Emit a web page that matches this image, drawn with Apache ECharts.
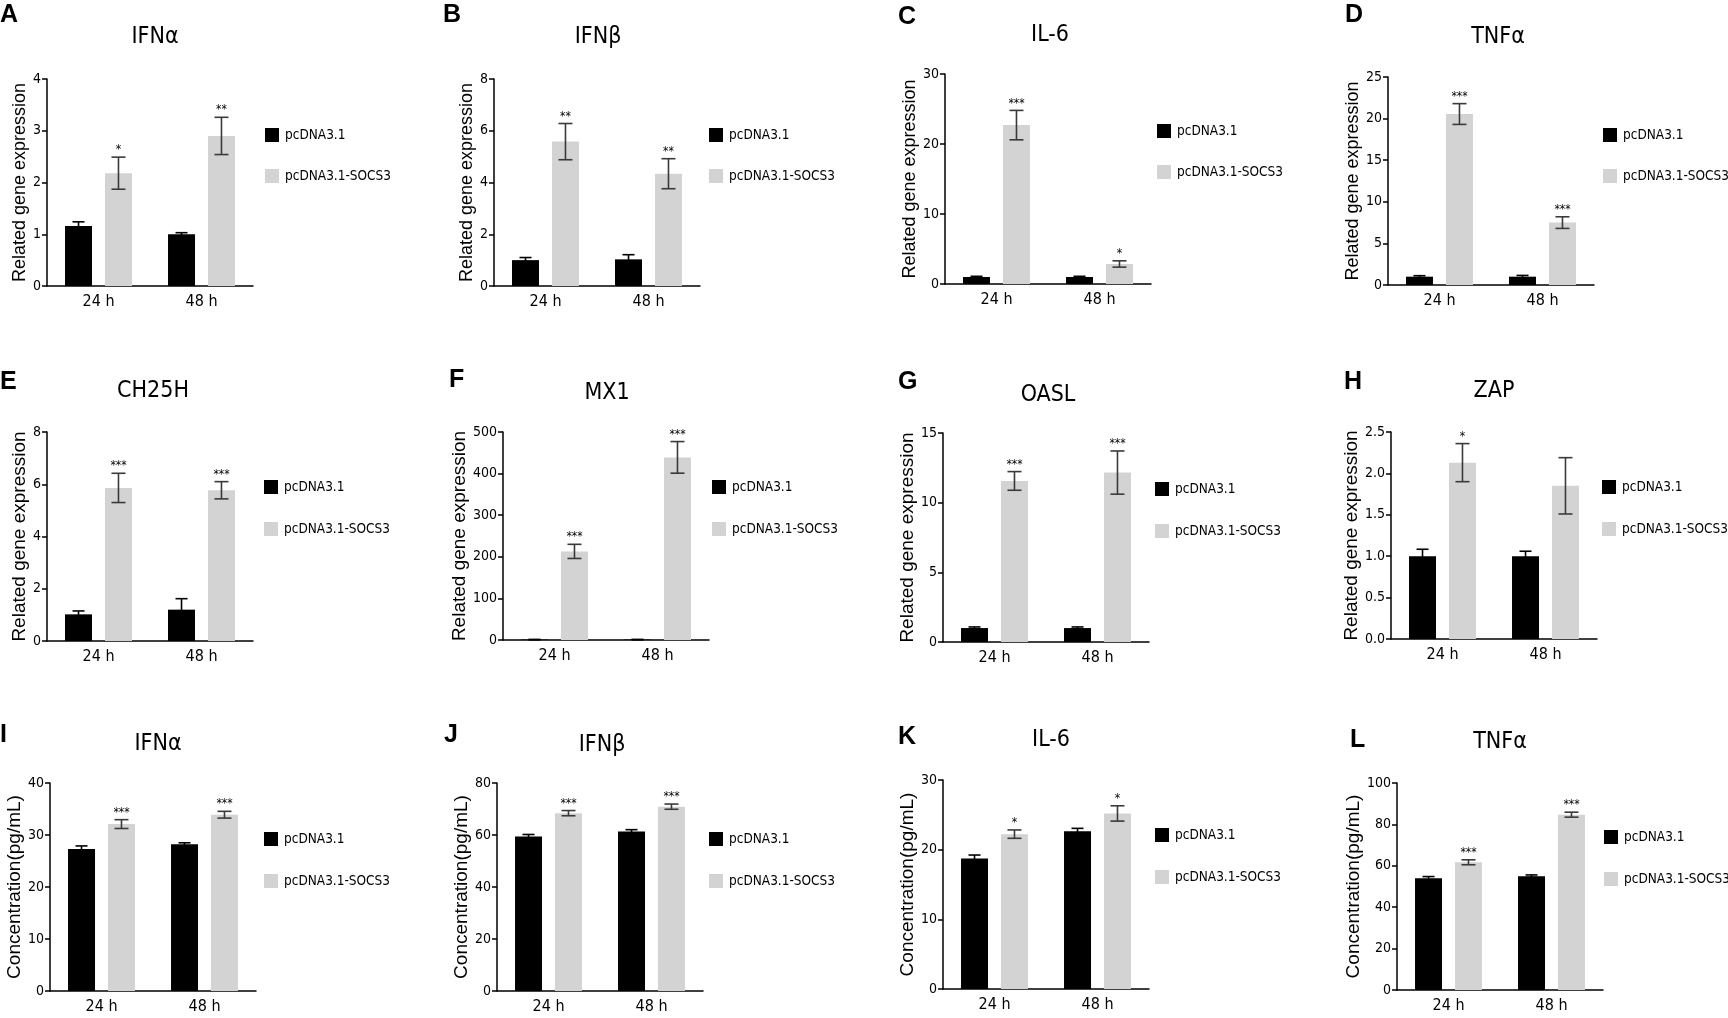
<!DOCTYPE html>
<html>
<head>
<meta charset="utf-8">
<script src="https://cdn.jsdelivr.net/npm/echarts@6/dist/echarts.min.js"></script>
<style>
html,body{margin:0;padding:0;background:#fff;}
#chart{width:1728px;height:1018px;}
</style>
</head>
<body>
<div id="chart"></div>
<script>
// ---------- data ----------
const categories = ['24 h', '48 h'];
const seriesNames = ['pcDNA3.1', 'pcDNA3.1-SOCS3'];
const panelLetters = ['A','B','C','D','E','F','G','H','I','J','K','L'];
const panelTitles = ['IFNα','IFNβ','IL-6','TNFα','CH25H','MX1','OASL','ZAP','IFNα','IFNβ','IL-6','TNFα'];
const yAxisNames = [
  'Related gene expression','Related gene expression','Related gene expression','Related gene expression',
  'Related gene expression','Related gene expression','Related gene expression','Related gene expression',
  'Concentration(pg/mL)','Concentration(pg/mL)','Concentration(pg/mL)','Concentration(pg/mL)'
];
const yMax = [4, 8, 30, 25, 8, 500, 15, 2.5, 40, 80, 30, 100];
const yInterval = [1, 2, 10, 5, 2, 100, 5, 0.5, 10, 20, 10, 20];
const yDecimals = [0, 0, 0, 0, 0, 0, 0, 1, 0, 0, 0, 0];

const controlMeans = [
  [1.16, 1.0], [1.0, 1.03], [1.0, 1.0], [1.0, 1.0],
  [1.02, 1.2], [1, 1], [1.0, 1.0], [1.0, 1.0],
  [27.3, 28.2], [59.4, 61.35], [18.73, 22.66], [54.0, 55.0]
];
const controlErrors = [
  [0.08, 0.03], [0.1, 0.18], [0.1, 0.1], [0.12, 0.15],
  [0.13, 0.42], [0.3, 0.3], [0.08, 0.08], [0.084, 0.06],
  [0.6, 0.3], [0.8, 0.7], [0.5, 0.4], [0.8, 0.6]
];
const socsMeans = [
  [2.18, 2.9], [5.58, 4.34], [22.7, 2.86], [20.55, 7.5],
  [5.86, 5.77], [213, 439], [11.56, 12.16], [2.13, 1.85],
  [32.1, 33.9], [68.4, 70.9], [22.23, 25.2], [61.7, 84.7]
];
const socsErrors = [
  [0.31, 0.36], [0.7, 0.58], [2.1, 0.45], [1.25, 0.7],
  [0.56, 0.33], [17, 38], [0.67, 1.55], [0.23, 0.34],
  [0.85, 0.65], [1.0, 1.0], [0.6, 1.1], [1.2, 1.2]
];
const socsStars = [
  ['*','**'], ['**','**'], ['***','*'], ['***','***'],
  ['***','***'], ['***','***'], ['***','***'], ['*',''],
  ['***','***'], ['***','***'], ['*','*'], ['***','***']
];

// ---------- layout & style ----------
const layout = [
  {ax:49,  top:79,  zero:286, tx:150,  ty:32,  lx:0,    ly:15,  gx:265,  gy:128},
  {ax:496, top:79,  zero:286, tx:593,  ty:32,  lx:443,  ly:15,  gx:709,  gy:128},
  {ax:947, top:74,  zero:284, tx:1045, ty:30,  lx:898,  ly:17,  gx:1157, gy:124},
  {ax:1390,top:77,  zero:285, tx:1493, ty:32,  lx:1345, ly:15,  gx:1603, gy:128},
  {ax:49,  top:432, zero:641, tx:148,  ty:386, lx:0,    ly:382, gx:264,  gy:480},
  {ax:505, top:432, zero:640, tx:602,  ty:388, lx:449,  ly:380, gx:712,  gy:480},
  {ax:945, top:433, zero:642, tx:1043, ty:390, lx:898,  ly:382, gx:1155, gy:482},
  {ax:1393,top:432, zero:639, tx:1489, ty:386, lx:1344, ly:382, gx:1602, gy:480},
  {ax:52,  top:783, zero:991, tx:153,  ty:739, lx:0,    ly:735, gx:264,  gy:832},
  {ax:499, top:783, zero:991, tx:597,  ty:740, lx:444,  ly:735, gx:709,  gy:832},
  {ax:945, top:780, zero:989, tx:1046, ty:735, lx:898,  ly:737, gx:1155, gy:828},
  {ax:1399,top:783, zero:990, tx:1495, ty:737, lx:1350, ly:740, gx:1604, gy:830}
];
const NARROW = "'Liberation Sans Narrow','Arial Narrow','DejaVu Sans Condensed',sans-serif";
const REG = "'Liberation Sans',Arial,sans-serif";
const BAR_W = 27;
const BAR_GAP = 0.48;
const OFFSET = (BAR_W + BAR_W * BAR_GAP) / 2;
const colors = ['#000000', '#d3d3d3'];
const errColors = ['#000000', '#3a3a3a'];

const grids = [], xAxes = [], yAxes = [], series = [], titles = [], legends = [];

for (let i = 0; i < 12; i++) {
  const L = layout[i];
  const row = Math.floor(i / 4);
  const dec = yDecimals[i];
  grids.push({left: L.ax - 2, top: L.top, width: 206, height: L.zero - L.top, containLabel: false});
  xAxes.push({
    type: 'category', gridIndex: i, data: categories,
    axisLine: {lineStyle: {color: '#000', width: 1.5}},
    axisTick: {alignWithLabel: true, length: 5, lineStyle: {color: '#000', width: 1.5}},
    axisLabel: {color: '#000', fontSize: 16, fontFamily: NARROW, margin: 8}
  });
  yAxes.push({
    type: 'value', gridIndex: i, min: 0, max: yMax[i], interval: yInterval[i],
    name: yAxisNames[i], nameLocation: 'middle', nameGap: 0, nameMoveOverlap: true,
    nameTextStyle: {color: '#000', fontSize: row === 0 ? 18 : 19, fontFamily: REG},
    axisLine: {show: true, lineStyle: {color: '#000', width: 1.5}},
    axisTick: {show: true, length: 5, lineStyle: {color: '#000', width: 1.5}},
    splitLine: {show: false},
    axisLabel: {color: '#000', fontSize: 14, fontFamily: NARROW, margin: 6,
      formatter: function (v) { return v.toFixed(dec); }}
  });
  const means = [controlMeans[i], socsMeans[i]];
  const errs = [controlErrors[i], socsErrors[i]];
  for (let g = 0; g < 2; g++) {
    series.push({
      type: 'bar', name: seriesNames[g], xAxisIndex: i, yAxisIndex: i,
      data: means[g], barWidth: BAR_W, barGap: (BAR_GAP * 100) + '%',
      itemStyle: {color: colors[g]}, silent: true, animation: false
    });
  }
  for (let g = 0; g < 2; g++) {
    const stars = g === 1 ? socsStars[i] : ['', ''];
    series.push({
      type: 'custom', name: 'err' + g, xAxisIndex: i, yAxisIndex: i, z: 5,
      animation: false, silent: true, clip: false,
      data: categories.map((c, k) => [k, means[g][k], errs[g][k]]),
      encode: {x: 0, y: 1},
      renderItem: function (params, api) {
        const k = api.value(0), m = api.value(1), e = api.value(2);
        const c = api.coord([k, m]);
        const x = c[0] + (g === 0 ? -OFFSET : OFFSET);
        const yt = api.coord([k, m + e])[1];
        const yb = api.coord([k, Math.max(0, m - e)])[1];
        const cap = g === 0 ? 6 : 7;
        const st = {stroke: errColors[g], lineWidth: 1.6};
        const ch = [
          {type: 'line', shape: {x1: x, y1: yt, x2: x, y2: yb}, style: st},
          {type: 'line', shape: {x1: x - cap, y1: yt, x2: x + cap, y2: yt}, style: st},
          {type: 'line', shape: {x1: x - cap, y1: yb, x2: x + cap, y2: yb}, style: st}
        ];
        const s = stars[params.dataIndex];
        if (s) {
          ch.push({type: 'text', x: x, y: yt - 1,
            style: {text: s, fill: '#000', fontSize: 12, fontFamily: NARROW, align: 'center', verticalAlign: 'bottom'}});
        }
        return {type: 'group', children: ch};
      }
    });
  }
  titles.push({text: panelTitles[i], left: L.tx, top: L.ty, textAlign: 'center', textVerticalAlign: 'middle',
    textStyle: {fontSize: 23, fontWeight: 'normal', color: '#000', fontFamily: NARROW}});
  titles.push({text: panelLetters[i], left: L.lx, top: L.ly, textVerticalAlign: 'middle', padding: 0,
    textStyle: {fontSize: 25, fontWeight: 'bold', color: '#000', fontFamily: REG}});
  legends.push({
    data: seriesNames, left: L.gx, top: L.gy, orient: 'vertical', padding: 0,
    itemWidth: 14, itemHeight: 14, itemGap: row === 0 ? 27 : 28, icon: 'rect',
    selectedMode: false,
    textStyle: {color: '#000', fontSize: 13.5, fontFamily: NARROW, padding: [0, 0, 0, 1]}
  });
}

const chart = echarts.init(document.getElementById('chart'), null, {renderer: 'canvas'});
chart.setOption({
  backgroundColor: '#fff',
  animation: false,
  title: titles,
  legend: legends,
  grid: grids,
  xAxis: xAxes,
  yAxis: yAxes,
  series: series
});
</script>
</body>
</html>
